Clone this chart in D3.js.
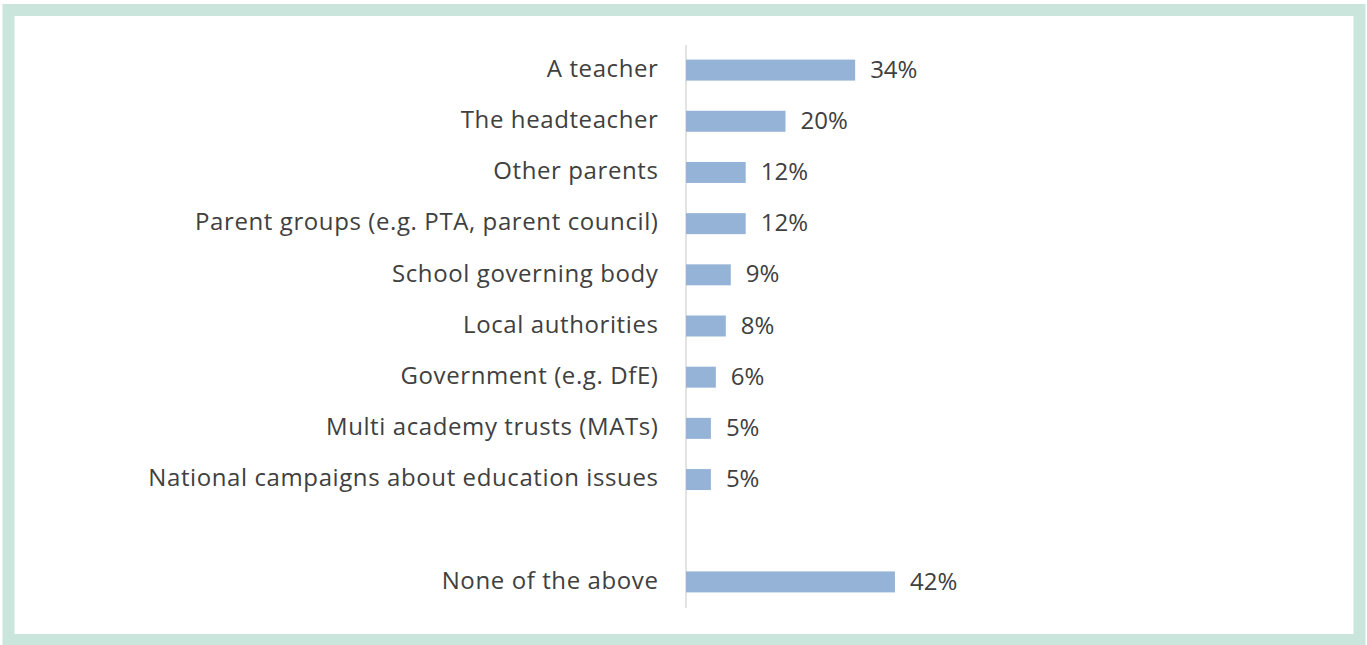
<!DOCTYPE html>
<meta charset="utf-8">
<script src="https://d3js.org/d3.v7.min.js"></script>
<style>
  body { margin: 0; background: #fff; }
</style>
<div id="chart"></div>
<script>

  // categories and values (percent), blank slot keeps the gap before the last row
  var categories = ["A teacher", "The headteacher", "Other parents",
                    "Parent groups (e.g. PTA, parent council)", "School governing body",
                    "Local authorities", "Government (e.g. DfE)", "Multi academy trusts (MATs)",
                    "National campaigns about education issues", "", "None of the above"];
  var values = [34, 20, 12, 12, 9, 8, 6, 5, 5, null, 42];
  var valueLabels = ["34%", "20%", "12%", "12%", "9%", "8%", "6%", "5%", "5%", "", "42%"];

  var W = 1367, H = 645;

  var svg = d3.select("#chart")
    .append("svg")
      .attr("width", W)
      .attr("height", H);

  // mint frame
  svg.append("rect")
    .attr("x", 8.5).attr("y", 10)
    .attr("width", 1351).attr("height", 630)
    .attr("fill", "none")
    .attr("stroke", "#c9e5dc")
    .attr("stroke-width", 12);

  var data = categories.map(function (c, i) {
    return {cat: i + "|" + c, label: c, value: values[i], text: valueLabels[i]};
  });

  // x scale: about 4.975 px per percent
  var x = d3.scaleLinear()
    .domain([0, 100])
    .range([686, 686 + 497.5]);

  var y = d3.scaleBand()
    .domain(data.map(function (d) { return d.cat; }))
    .range([44.5, 607.5])
    .paddingInner(0.59)
    .paddingOuter(0.295);

  var font = "'Open Sans', sans-serif";

  // category axis
  var yAxis = svg.append("g")
    .attr("transform", "translate(685.5,0)")
    .call(d3.axisLeft(y).tickSize(0).tickPadding(27)
      .tickFormat(function (d) { return d.split("|")[1]; }));
  yAxis.select(".domain").attr("stroke", "#d0d0d0").attr("stroke-width", 1.2);
  yAxis.selectAll("text")
    .attr("dy", "0.28em")
    .style("font-family", font)
    .style("font-size", "24px")
    .style("letter-spacing", "0.6px")
    .attr("fill", "#404040");

  // bars
  var rows = data.filter(function (d) { return d.value != null; });
  svg.append("g")
    .selectAll("rect")
    .data(rows)
    .enter()
    .append("rect")
      .attr("x", x(0))
      .attr("y", function (d) { return y(d.cat); })
      .attr("width", function (d) { return x(d.value) - x(0); })
      .attr("height", y.bandwidth())
      .attr("fill", "#95b3d7");

  // value labels
  svg.append("g")
    .selectAll("text")
    .data(rows)
    .enter()
    .append("text")
      .attr("x", function (d) { return x(d.value) + 15; })
      .attr("y", function (d) { return y(d.cat) + y.bandwidth() / 2; })
      .attr("dy", "0.32em")
      .style("font-family", font)
      .style("font-size", "24px")
      .attr("fill", "#404040")
      .text(function (d) { return d.text; });

</script>
